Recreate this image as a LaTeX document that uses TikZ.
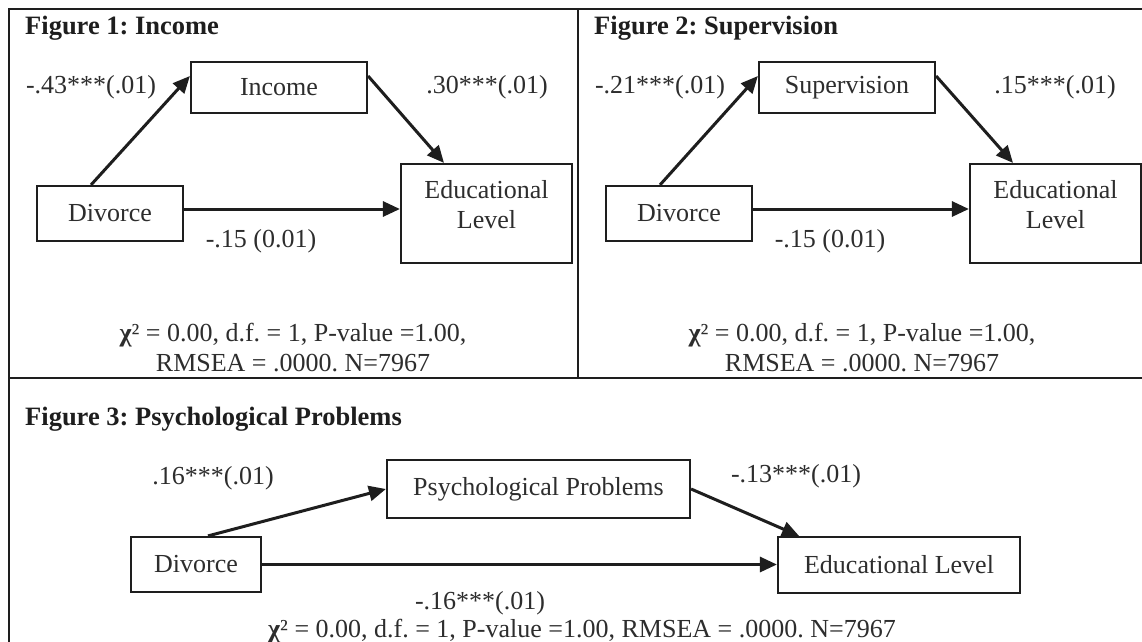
\documentclass[tikz,border=0pt]{standalone}
\usepackage{fontspec}
\setmainfont{Liberation Serif}
\usetikzlibrary{arrows.meta}
\definecolor{ink}{RGB}{30,30,30}
\definecolor{txt}{RGB}{45,45,45}
\frenchspacing
\begin{document}
\begin{tikzpicture}[x=1pt,y=-1pt,
  box/.style={draw=ink, line width=2.2pt, inner sep=0pt, font=\fontsize{26}{30}\selectfont, text=txt, align=center},
  lbl/.style={inner sep=0pt, font=\fontsize{26}{30}\selectfont, text=txt, align=center},
  ttl/.style={inner sep=0pt, anchor=base west, font=\fontsize{26.5}{30}\selectfont\bfseries, text=ink},
  arr/.style={draw=ink, line width=3pt, -{Triangle[length=17pt,width=15pt]}},
  frame/.style={draw=ink, line width=1.6pt}]
\useasboundingbox (0,0) rectangle (1142,641);
\clip (0,0) rectangle (1142,641);
\fill[white] (0,0) rectangle (1142,641);
% frame
\draw[frame] (9,9) rectangle (1147,652);
\draw[frame] (9,378) -- (1147,378);
\draw[frame] (578,9) -- (578,378);

% ---------- Figure 1 ----------
\node[ttl] (t1) at (25,34) {Figure 1: Income};
\node[box, minimum width=176pt, minimum height=51pt] (m1) at (279,87.5) {Income};
\node[box, minimum width=146pt, minimum height=55pt] (d1) at (110,213.5) {Divorce};
\node[box, minimum width=171pt, minimum height=99pt] (e1) at (486.5,213.5) {};
\node[lbl] (e1t) at ([yshift=8.5pt]e1.center) {Educational\\Level};
\draw[arr] ([xshift=-19pt]d1.north) -- ([yshift=11.5pt]m1.west);
\draw[arr] ([yshift=11.5pt]m1.east) -- ([xshift=-42.5pt]e1.north);
\draw[arr] ([yshift=4.5pt]d1.east) -- ([yshift=4.5pt]e1.west);
\node[lbl] (a1) at (91,87) {-.43***(.01)};
\node[lbl] (b1) at (487,87) {.30***(.01)};
\node[lbl] (c1) at (261,241) {-.15 (0.01)};
\node[lbl] (f1) at (293,335) {{\bfseries χ}² = 0.00, d.f. = 1, P-value =1.00,};
\node[lbl] (g1) at (293,363) {RMSEA = .0000. N=7967};

% ---------- Figure 2 ----------
\begin{scope}[xshift=569pt]
\node[ttl] (t2) at (25,34) {Figure 2: Supervision};
\node[box, minimum width=176pt, minimum height=51pt] (m2) at (278,87.5) {Supervision};
\node[box, minimum width=146pt, minimum height=55pt] (d2) at (110,213.5) {Divorce};
\node[box, minimum width=171pt, minimum height=99pt] (e2) at (486.5,213.5) {};
\node[lbl] (e2t) at ([yshift=8.5pt]e2.center) {Educational\\Level};
\draw[arr] ([xshift=-19pt]d2.north) -- ([yshift=11.5pt]m2.west);
\draw[arr] ([yshift=11.5pt]m2.east) -- ([xshift=-42.5pt]e2.north);
\draw[arr] ([yshift=4.5pt]d2.east) -- ([yshift=4.5pt]e2.west);
\node[lbl] (a2) at (91,87) {-.21***(.01)};
\node[lbl] (b2) at (486,87) {.15***(.01)};
\node[lbl] (c2) at (261,241) {-.15 (0.01)};
\node[lbl] (f2) at (293,335) {{\bfseries χ}² = 0.00, d.f. = 1, P-value =1.00,};
\node[lbl] (g2) at (293,363) {RMSEA = .0000. N=7967};
\end{scope}

% ---------- Figure 3 ----------
\node[ttl] (t3) at (25,425) {Figure 3: Psychological Problems};
\node[box, minimum width=303pt, minimum height=58pt] (m3) at (538.5,489) {Psychological Problems};
\node[box, minimum width=130pt, minimum height=55pt] (d3) at (196,564.5) {Divorce};
\node[box, minimum width=242pt, minimum height=56pt] (e3) at (899,565) {Educational Level};
\draw[arr] ([xshift=12pt]d3.north) -- (m3.west);
\draw[arr] (m3.east) -- ([xshift=-100pt]e3.north);
\draw[arr] (d3.east) -- (d3.east -| e3.west);
\node[lbl] (a3) at (213,478) {.16***(.01)};
\node[lbl] (b3) at (796,476) {-.13***(.01)};
\node[lbl] (c3) at (480,603) {-.16***(.01)};
\node[lbl] (f3) at (582,631) {{\bfseries χ}² = 0.00, d.f. = 1, P-value =1.00, RMSEA = .0000. N=7967};
\end{tikzpicture}
\end{document}
